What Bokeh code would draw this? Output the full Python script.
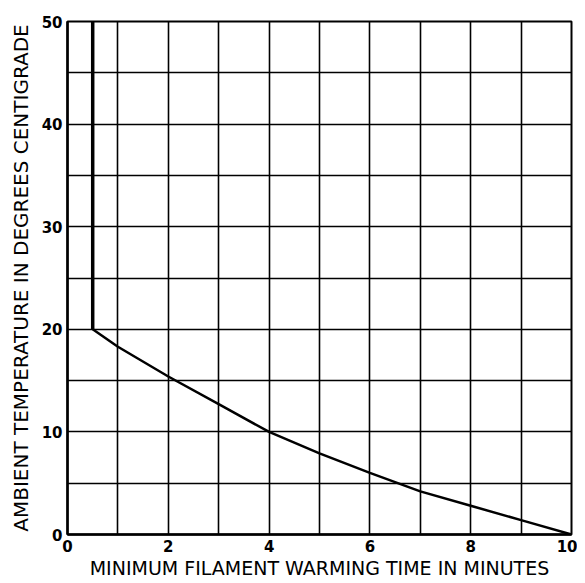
from bokeh.plotting import figure
from bokeh.models import FixedTicker, Range1d
from bokeh.embed import file_html
from bokeh.resources import INLINE

# data
vert_x = [0.5, 0.5]
vert_y = [50, 20]
curve_x = [0.5, 1, 2, 3, 4, 5, 6, 7, 8, 9, 10]
curve_y = [20, 18.3, 15.4, 12.7, 10.0, 7.9, 6.0, 4.2, 2.8, 1.4, 0]
x_ticks = [0, 2, 4, 6, 8, 10]
y_ticks = [0, 10, 20, 30, 40, 50]
x_grid = list(range(0, 11))
y_grid = list(range(0, 51, 5))

FONT = "DejaVu Sans"

p = figure(width=577, height=581, output_backend="svg", toolbar_location=None,
           x_range=Range1d(0, 10), y_range=Range1d(0, 50),
           min_border_left=67, min_border_right=6, min_border_top=21, min_border_bottom=47)

p.line(vert_x, vert_y, line_color="black", line_width=3.5)
p.line(curve_x, curve_y, line_color="black", line_width=2.5)

p.xaxis.ticker = FixedTicker(ticks=x_ticks)
p.yaxis.ticker = FixedTicker(ticks=y_ticks)
p.xgrid.ticker = FixedTicker(ticks=x_grid)
p.ygrid.ticker = FixedTicker(ticks=y_grid)
for g in (p.xgrid, p.ygrid):
    g.grid_line_color = "black"
    g.grid_line_width = 1.6
    g.grid_line_alpha = 1

for ax in (p.xaxis, p.yaxis):
    ax.axis_line_width = 2.5
    ax.axis_line_color = "black"
    ax.major_tick_line_color = None
    ax.minor_tick_line_color = None
    ax.major_tick_out = 0
    ax.major_tick_in = 0
    ax.minor_tick_out = 0
    ax.minor_tick_in = 0
    ax.major_label_text_font = FONT
    ax.major_label_text_font_size = "15px"
    ax.major_label_text_font_style = "bold"
    ax.major_label_text_color = "black"
    ax.axis_label_text_font = FONT
    ax.axis_label_text_font_style = "normal"
    ax.axis_label_text_color = "black"

p.xaxis.axis_label_text_font_size = "19px"
p.yaxis.axis_label_text_font_size = "20px"
p.xaxis.major_label_standoff = 5
p.yaxis.major_label_standoff = 5
p.xaxis.axis_label = "MINIMUM FILAMENT WARMING TIME IN MINUTES"
p.yaxis.axis_label = "AMBIENT TEMPERATURE IN DEGREES CENTIGRADE"
p.xaxis.axis_label_standoff = 2
p.yaxis.axis_label_standoff = 6

p.outline_line_color = "black"
p.outline_line_width = 2
p.outline_line_alpha = 1

open("out.html", "w").write(file_html(p, INLINE))
